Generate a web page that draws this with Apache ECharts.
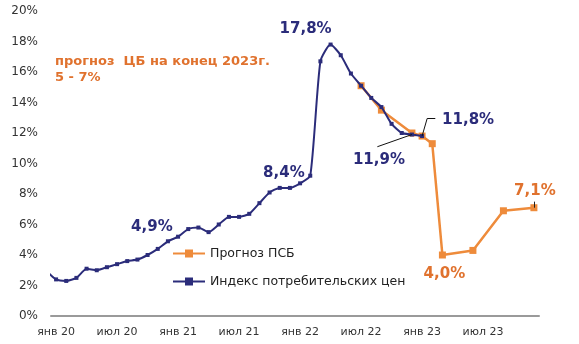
<!DOCTYPE html>
<html><head><meta charset="utf-8">
<script src="https://cdn.jsdelivr.net/npm/echarts@6/dist/echarts.min.js"></script>
<style>html,body{margin:0;padding:0;background:#fff}#c{width:579px;height:344px}</style>
</head><body><div id="c"></div>
<script>
// ---- data ----
const monthNames = ['янв','фев','мар','апр','май','июн','июл','авг','сен','окт','ноя','дек'];
const axisStart = '2020-01';
const axisMonths = 48;              // Jan 2020 .. Dec 2023
const cpiStart = '2019-12';         // first CPI value month
const cpiValues = [3.0,
  2.4,2.3,2.5,3.1,3.0,3.2,3.4,3.6,3.7,4.0,4.4,4.9,
  5.2,5.7,5.8,5.5,6.0,6.5,6.5,6.7,7.4,8.1,8.4,8.4,
  8.7,9.2,16.7,17.8,17.1,15.9,15.1,14.3,13.7,12.6,12.0,11.9,
  11.8];
const psbDates = ['2022-07','2022-09','2022-12','2023-01','2023-02','2023-03','2023-06','2023-09','2023-12'];
const psbValues = [15.1,13.5,12.0,11.8,11.3,4.0,4.3,6.9,7.1];
const yTicks = [0,2,4,6,8,10,12,14,16,18,20];
const seriesNames = ['Прогноз ПСБ','Индекс потребительских цен'];
const noteText = 'прогноз  ЦБ на конец 2023г.\n5 - 7%';

// ---- helpers ----
function mIdx(s){ const [y,m]=s.split('-').map(Number); const [y0,m0]=axisStart.split('-').map(Number); return (y-y0)*12+(m-m0); }
const cats = [];
for(let i=0;i<axisMonths;i++){ const y=2020+Math.floor(i/12); cats.push(monthNames[i%12]+' '+String(y).slice(2)); }
const c0 = mIdx(cpiStart);
const cpiData = cpiValues.map((v,i)=>[c0+i, v]);
const psbData = psbDates.map((d,i)=>[mIdx(d), psbValues[i]]);
const cpiAt = d => cpiValues[mIdx(d)-c0];

const NAVY = '#2B2C7A', ORANGE_L = '#EE8B3B', ORANGE_T = '#E0722E';
const pctLabel = v => v.toFixed(1).replace('.',',')+'%';

const chart = echarts.init(document.getElementById('c'));
chart.setOption({
  animation:false,
  textStyle:{fontFamily:'DejaVu Sans'},
  title:{text:noteText,left:55,top:54,padding:0,
    textStyle:{color:ORANGE_T,fontSize:13,fontWeight:'bold',lineHeight:16,fontFamily:'DejaVu Sans'}},
  legend:{orient:'vertical',left:167,top:242,itemWidth:32,itemHeight:10,itemGap:15,
    data:seriesNames,textStyle:{fontSize:12.5,color:'#222',fontFamily:'DejaVu Sans'}},
  grid:{left:51,right:40,top:11,bottom:28,containLabel:false},
  xAxis:[
    {type:'value',min:-0.5,max:axisMonths-0.5,show:false},
    {type:'category',data:cats,boundaryGap:true,position:'bottom',
     axisLine:{show:true,lineStyle:{color:'#9a9a9a',width:2}},
     axisTick:{show:false},
     axisLabel:{interval:5,margin:11,fontSize:11,color:'#333',fontFamily:'DejaVu Sans'}}
  ],
  yAxis:{type:'value',min:yTicks[0],max:yTicks[yTicks.length-1],interval:yTicks[1]-yTicks[0],
    axisLine:{show:false},axisTick:{show:false},splitLine:{show:false},
    axisLabel:{formatter:'{value}%',fontSize:12,color:'#333',margin:13,fontFamily:'DejaVu Sans'}},
  series:[
    {name:seriesNames[0],type:'line',xAxisIndex:0,data:psbData,z:3,
     symbol:'rect',symbolSize:7,showAllSymbol:true,
     lineStyle:{color:ORANGE_L,width:2.5},itemStyle:{color:ORANGE_L},
     markPoint:{symbol:'rect',symbolSize:1,itemStyle:{color:'rgba(0,0,0,0)'},
       label:{show:true,position:'inside',formatter:'{b}',color:ORANGE_T,fontSize:15,fontWeight:'bold',fontFamily:'DejaVu Sans'},
       data:[
         {name:pctLabel(psbValues[5]),coord:psbData[5],label:{offset:[2,19]}},
         {name:pctLabel(psbValues[8]),coord:psbData[8],label:{offset:[1,-17]}}
       ]},
     markLine:{symbol:'none',silent:true,label:{show:false},lineStyle:{color:'#222',width:1,type:'solid'},
       data:[[{coord:psbData[8]},{coord:[psbData[8][0],psbValues[8]+0.4]}]]}
    },
    {name:seriesNames[1],type:'line',xAxisIndex:0,data:cpiData,z:4,
     smooth:0.2,symbol:'rect',symbolSize:4,showAllSymbol:true,clip:true,
     lineStyle:{color:NAVY,width:2},itemStyle:{color:NAVY},
     markPoint:{symbol:'rect',symbolSize:1,itemStyle:{color:'rgba(0,0,0,0)'},
       label:{show:true,position:'inside',formatter:'{b}',color:NAVY,fontSize:15,fontWeight:'bold',fontFamily:'DejaVu Sans'},
       data:[
         {name:pctLabel(cpiAt('2022-04')),coord:[mIdx('2022-04'),cpiAt('2022-04')],label:{offset:[-25,-15]}},
         {name:pctLabel(cpiAt('2021-12')),coord:[mIdx('2021-12'),cpiAt('2021-12')],label:{offset:[-6,-15]}},
         {name:pctLabel(cpiAt('2020-12')),coord:[mIdx('2020-12'),cpiAt('2020-12')],label:{offset:[-16,-14]}},
         {name:pctLabel(cpiAt('2022-12')),coord:[mIdx('2022-12'),cpiAt('2022-12')],label:{offset:[-33,26]}},
         {name:pctLabel(cpiAt('2023-01')),coord:[mIdx('2023-01'),cpiAt('2023-01')],label:{offset:[46,-16]}}
       ]},
     markLine:{symbol:'none',silent:true,label:{show:false},lineStyle:{color:'#111',width:1,type:'solid'},
       data:[
         [{coord:[mIdx('2022-12')-3.4,cpiAt('2022-12')-0.8]},{coord:[mIdx('2022-12'),cpiAt('2022-12')]}],
         [{coord:[mIdx('2023-01'),cpiAt('2023-01')]},{coord:[mIdx('2023-01')+0.5,cpiAt('2023-01')+1.15]}],
         [{coord:[mIdx('2023-01')+0.5,cpiAt('2023-01')+1.15]},{coord:[mIdx('2023-01')+1.3,cpiAt('2023-01')+1.15]}]
       ]}
    }
  ]
});
</script></body></html>
